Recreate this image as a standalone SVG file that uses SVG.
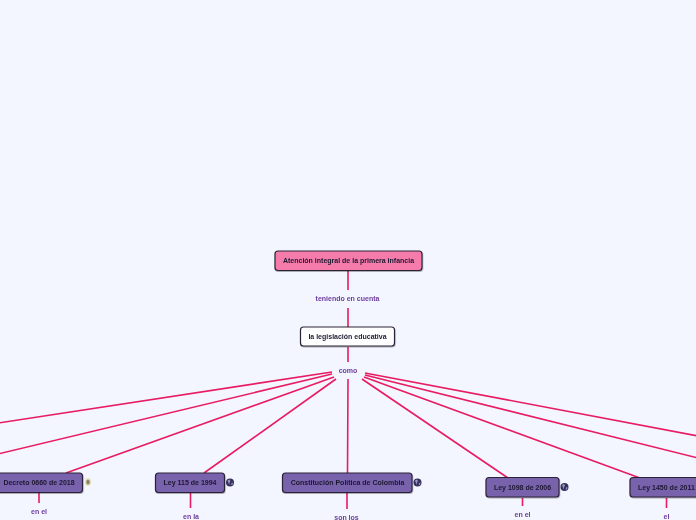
<svg xmlns="http://www.w3.org/2000/svg" width="696" height="520" viewBox="0 0 696 520">
<defs>
<filter id="sh" x="-5%" y="-15%" width="110%" height="135%"><feDropShadow dx="0.5" dy="1" stdDeviation="0.6" flood-color="#000" flood-opacity="0.3"/></filter>
<g id="globe"><circle r="4" fill="#35305f"/><path d="M-2.500-2 L-0.500-3 L0.500-1.500 L-0.500 0 L-0.500 2.500 L-2-0.500Z M1.500 0.500 L3 0 L2.500 2.300 L1.200 2.500Z" fill="#9a98b8"/></g>
</defs>
<style>
.n{stroke:#2a2438;stroke-width:1.2;filter:url(#sh)}
.t{font:bold 7px "Liberation Sans",Arial,sans-serif;fill:#1c1730;text-anchor:middle;opacity:.99}
.l{font:bold 7px "Liberation Sans",Arial,sans-serif;fill:#6a3a9c;text-anchor:middle;opacity:.99}
.c{stroke:#e81c62;stroke-width:1.6;fill:none}
</style>
<rect width="696" height="520" fill="#f3f6ff"/>
<g id="connectors">
<path class="c" d="M348 271V290M348 308V327M348 347V362"/>
<path class="c" d="M332 372L-2 423M332 374L-2 454M334 377L66 473M336 379L204 473M348 379L347.500 473M362 379L508 478M364 377L640 478M365 375L698 458M365 373L698 436"/>
<path class="c" d="M39 493V503M190.500 493V508M347 493V509M522.500 498V506M666.500 498V508"/>
</g>
<g id="node-atencion"><rect class="n" x="275" y="251" width="147" height="19.500" rx="3" fill="#f57caa"/><text class="t" x="348.500" y="263">Atención integral de la primera infancia</text></g>
<g id="label-teniendo"><text class="l" x="347.500" y="301">teniendo en cuenta</text></g>
<g id="node-legislacion"><rect class="n" x="300.500" y="327" width="94" height="19" rx="3" fill="#fff"/><text class="t" x="347.500" y="339">la legislación educativa</text></g>
<g id="label-como"><text class="l" x="348" y="373">como</text></g>
<g id="node-decreto"><rect class="n" x="-10" y="473" width="92.500" height="19.500" rx="3" fill="#7862ab"/><text class="t" x="39" y="485">Decreto 0660 de 2018</text><g transform="translate(88 482)"><ellipse rx="3.200" ry="4" fill="#e8e2bc"/><ellipse rx="1.800" ry="2.600" fill="#8d866e"/></g></g>
<g id="label-en-el-1"><text class="l" x="39" y="514">en el</text></g>
<g id="node-ley115"><rect class="n" x="155.500" y="473" width="69" height="19.500" rx="3" fill="#7862ab"/><text class="t" x="190" y="485">Ley 115 de 1994</text><use href="#globe" x="230" y="482.500"/></g>
<g id="label-en-la"><text class="l" x="191" y="519">en la</text></g>
<g id="node-constitucion"><rect class="n" x="282.500" y="473" width="129.500" height="19.500" rx="3" fill="#7862ab"/><text class="t" x="347.500" y="485">Constitución Política de Colombia</text><use href="#globe" x="417.500" y="482.500"/></g>
<g id="label-son-los"><text class="l" x="346.500" y="520">son los</text></g>
<g id="node-ley1098"><rect class="n" x="486" y="477.500" width="73" height="19.500" rx="3" fill="#7862ab"/><text class="t" x="522.500" y="490">Ley 1098 de 2006</text><use href="#globe" x="564.500" y="487"/></g>
<g id="label-en-el-2"><text class="l" x="522.500" y="517">en el</text></g>
<g id="node-ley1450"><rect class="n" x="630" y="477.500" width="75" height="19.500" rx="3" fill="#7862ab"/><text class="t" x="666.500" y="490">Ley 1450 de 2011</text></g>
<g id="label-el"><text class="l" x="666.500" y="519">el</text></g>
</svg>
